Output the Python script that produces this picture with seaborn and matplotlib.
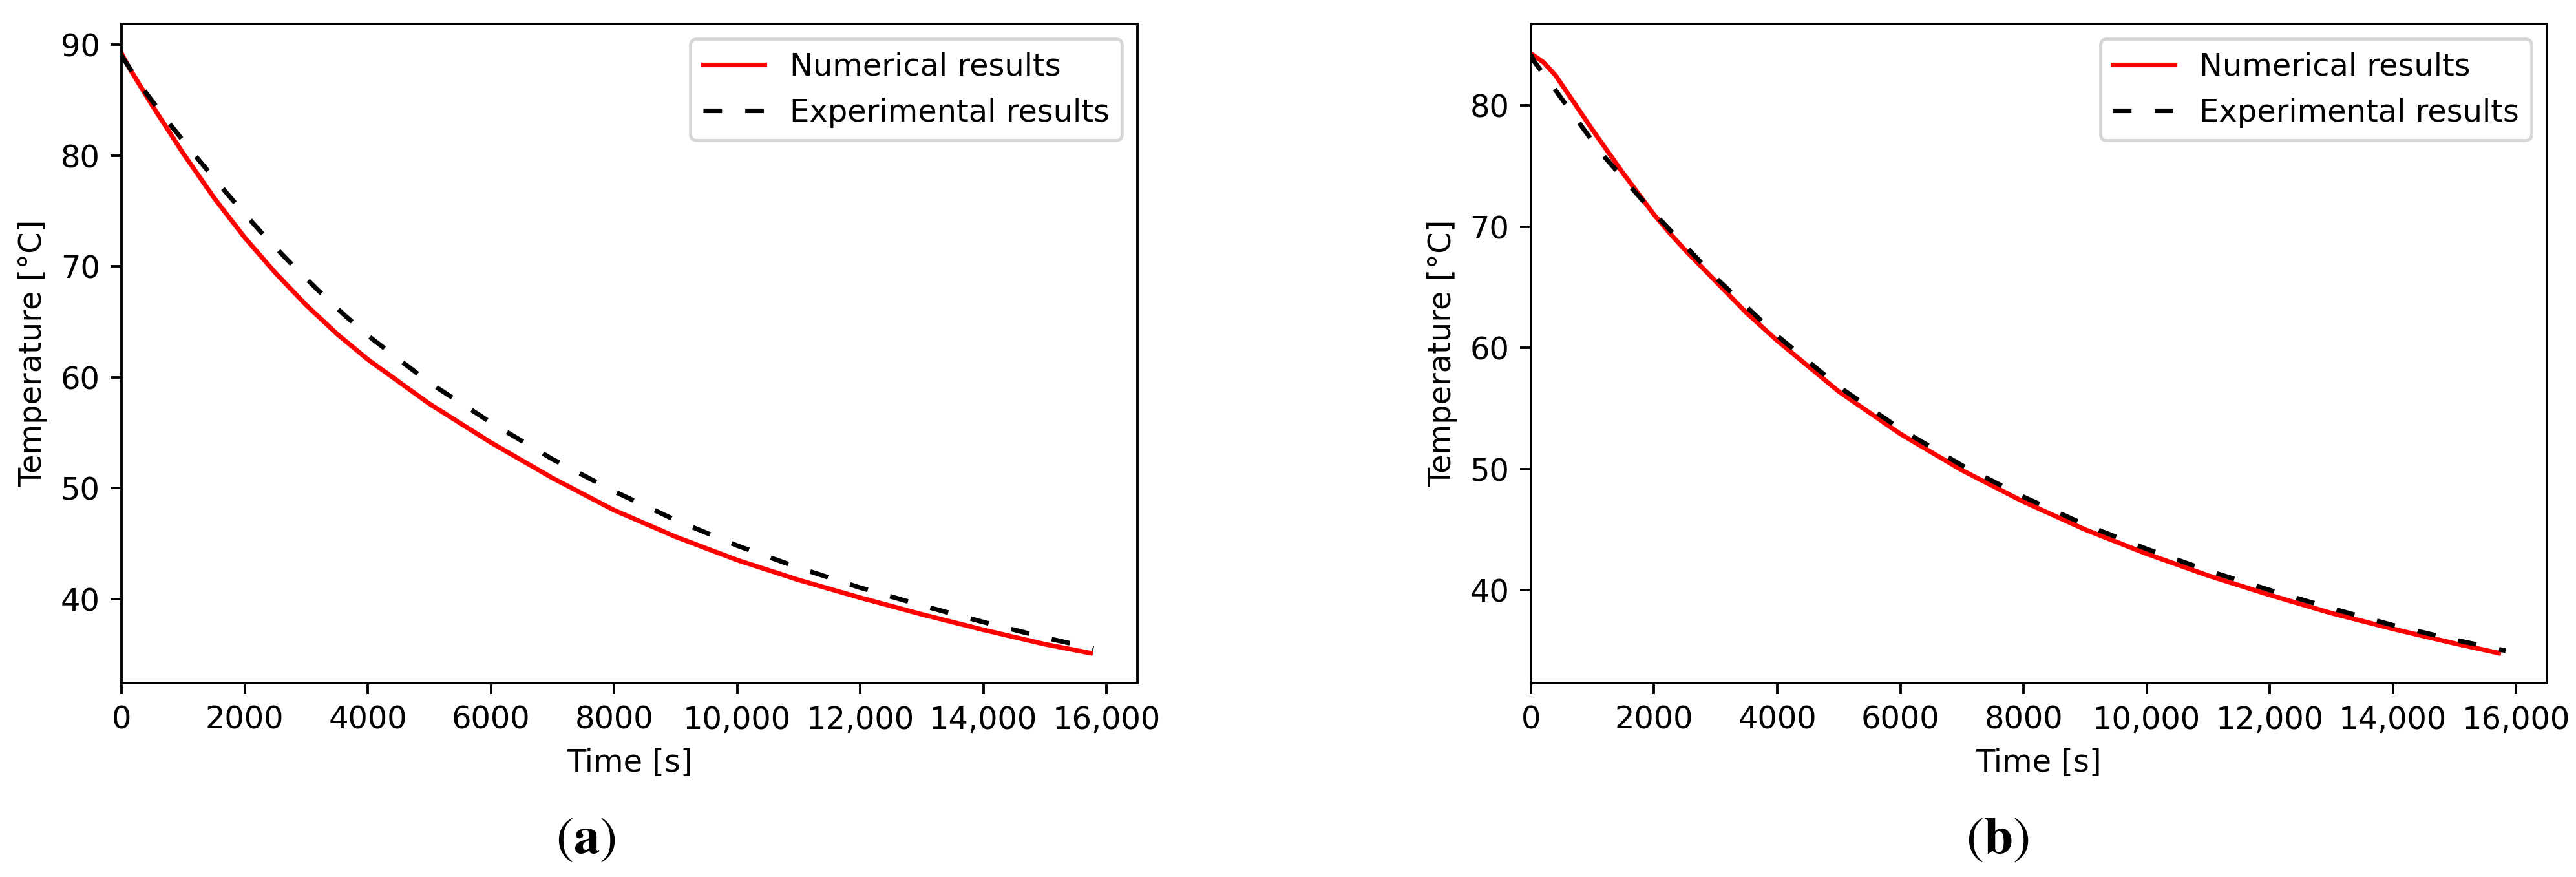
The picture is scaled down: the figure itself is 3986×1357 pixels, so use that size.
import seaborn as sns
import pandas as pd
import matplotlib
matplotlib.use("Agg")
import matplotlib.pyplot as plt
from matplotlib.ticker import FuncFormatter

# panel (a)
time_a_num = [0, 125, 500, 1000, 1500, 2000, 2500, 3000, 3500, 4000, 5000, 6000, 7000,
              8000, 9000, 10000, 11000, 12000, 13000, 14000, 15000, 15740]
temp_a_num = [89.2, 87.9, 84.5, 80.2, 76.2, 72.6, 69.4, 66.5, 63.9, 61.6, 57.6, 54.1, 50.9,
              48.0, 45.6, 43.5, 41.7, 40.1, 38.6, 37.2, 35.9, 35.1]
time_a_exp = [0, 390, 760, 1150, 1540, 1940, 2360, 2780, 3200, 3620, 4060, 5000, 6000, 7000,
              8000, 9000, 10000, 11000, 12000, 13000, 14000, 15000, 15790]
temp_a_exp = [89.0, 85.7, 83.0, 80.3, 77.7, 75.1, 72.5, 70.1, 67.8, 65.6, 63.5, 59.5, 55.9, 52.6,
              49.7, 47.1, 44.8, 42.8, 41.0, 39.4, 37.9, 36.5, 35.5]

# panel (b)
time_b_num = [0, 200, 400, 600, 800, 1000, 1250, 1500, 1750, 2000, 2250, 2500, 3000, 3500, 4000,
              5000, 6000, 7000, 8000, 9000, 10000, 11000, 12000, 13000, 14000, 15000, 15720]
temp_b_num = [84.3, 83.6, 82.5, 81.0, 79.5, 78.0, 76.2, 74.4, 72.7, 71.0, 69.5, 68.1, 65.5, 62.9, 60.6,
              56.4, 52.9, 49.9, 47.3, 45.0, 43.0, 41.2, 39.6, 38.1, 36.8, 35.6, 34.8]
time_b_exp = [0, 60, 410, 780, 1140, 1550, 1930, 2300, 3000, 4000, 5000, 6000, 7000,
              8000, 9000, 10000, 11000, 12000, 13000, 14000, 15000, 15830]
temp_b_exp = [84.2, 83.6, 81.2, 78.6, 76.1, 73.7, 71.5, 69.5, 65.8, 61.0, 56.8, 53.3, 50.3,
              47.7, 45.4, 43.4, 41.6, 40.0, 38.5, 37.1, 35.9, 35.0]

plt.rcdefaults()
fig = plt.figure(figsize=(3986 / 345, 1357 / 345), dpi=345)
ax_a = fig.add_axes([0.0472, 0.2211, 0.3943, 0.7520])
ax_b = fig.add_axes([0.5943, 0.2211, 0.3944, 0.7520])

fmt = FuncFormatter(lambda v, p: f"{v:,.0f}" if v >= 10000 else f"{v:.0f}")

panels = [(ax_a, time_a_num, temp_a_num, time_a_exp, temp_a_exp, "a", 0.2275),
          (ax_b, time_b_num, temp_b_num, time_b_exp, temp_b_exp, "b", 0.7755)]
for ax, tn, yn, te, ye, tag, xpos in panels:
    sns.lineplot(x=tn, y=yn, ax=ax, color="red", lw=1.5, label="Numerical results")
    sns.lineplot(x=te, y=ye, ax=ax, color="black", lw=1.5, linestyle=(0, (4, 5)),
                 label="Experimental results")
    ax.set_xlim(0, 16500)
    ax.set_xticks(range(0, 16001, 2000))
    ax.xaxis.set_major_formatter(fmt)
    ax.set_xlabel("Time [s]")
    ax.set_ylabel("Temperature [°C]")
    ax.legend(loc="upper right")
    fig.text(xpos, 0.0435, r"$(\mathbf{" + tag + r"})$", ha="center", va="center",
             fontsize=17, math_fontfamily="stix")

fig.savefig("out.png", dpi=345)
